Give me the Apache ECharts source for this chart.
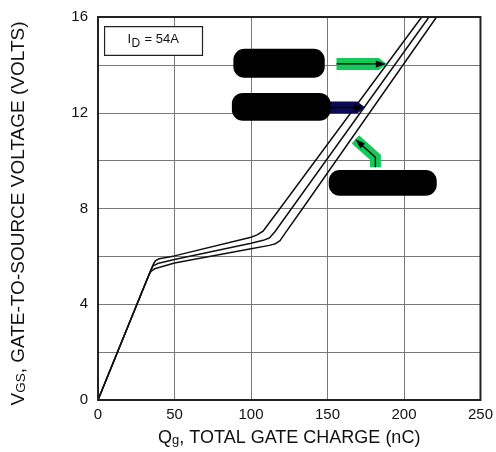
<!DOCTYPE html>
<html><head><meta charset="utf-8">
<script src="https://cdn.jsdelivr.net/npm/echarts@6/dist/echarts.min.js"></script>
<style>html,body{margin:0;padding:0;background:#fff}#c{width:496px;height:452px}</style>
</head><body><div id="c"></div>
<script>
// Curves (Qg nC, VGS V), three curves
const curveTop = [[0,0],[36,5.65],[37.6,5.82],[40,5.9],[50,6.02],[100,6.8],[104,6.9],[108,7.06],[111,7.32],[118.7,7.98],[211.6,16]];
const curveMid = [[0,0],[34.6,5.44],[36,5.6],[39,5.7],[50,5.87],[100,6.55],[108,6.67],[112,6.77],[115.5,7.02],[126.3,7.98],[216.4,16]];
const curveBot = [[0,0],[33,5.18],[34.6,5.37],[37,5.48],[50,5.72],[100,6.32],[112,6.46],[116,6.53],[119,6.66],[122,6.94],[133.5,7.98],[221.3,16]];
const xTicks = [0,50,100,150,200,250];
const yTicks = [0,2,4,6,8,10,12,14,16];
const yLabelTicks = [0,4,8,12,16];
const idLabel = '54A';

const FONT = "'Liberation Sans', Arial, Helvetica, sans-serif";
const chart = echarts.init(document.getElementById('c'), null, {renderer:'canvas'});
const lineSeries = d => ({type:'line', data:d, showSymbol:false, symbol:'none', smooth:false,
  lineStyle:{color:'#111', width:1.5}, z:3, silent:true});
chart.setOption({
  animation:false,
  grid:{left:98, right:14, top:17, bottom:50, show:false},
  xAxis:{type:'value', min:xTicks[0], max:xTicks[xTicks.length-1], interval:50,
    axisLine:{show:false}, axisTick:{show:false},
    axisLabel:{color:'#111', fontSize:15, fontFamily:FONT, margin:7},
    splitLine:{show:true, lineStyle:{color:'#777', width:1}},
    name:'{n|Q}{s|g}{n|, TOTAL GATE CHARGE (nC)}', nameLocation:'middle', nameGap:27,
    nameTextStyle:{rich:{
      n:{fontSize:18, fontFamily:FONT, color:'#111', verticalAlign:'bottom', lineHeight:20},
      s:{fontSize:13, fontFamily:FONT, color:'#111', verticalAlign:'bottom', lineHeight:4}}}
  },
  yAxis:{type:'value', min:yTicks[0], max:yTicks[yTicks.length-1], interval:2,
    axisLine:{show:false}, axisTick:{show:false},
    axisLabel:{color:'#111', fontSize:15, fontFamily:FONT, margin:10,
      formatter: v => yLabelTicks.indexOf(v) >= 0 ? String(v) : ''},
    splitLine:{show:true, lineStyle:{color:'#777', width:1}},
    name:'{n|V}{s|GS}{n|, GATE-TO-SOURCE VOLTAGE (VOLTS)}', nameLocation:'middle', nameRotate:90, nameGap:70,
    nameTextStyle:{padding:[0,10,0,0], rich:{
      n:{fontSize:19, fontFamily:FONT, color:'#111', verticalAlign:'bottom', lineHeight:20},
      s:{fontSize:13.5, fontFamily:FONT, color:'#111', verticalAlign:'bottom', lineHeight:4}}}
  },
  series:[lineSeries(curveTop), lineSeries(curveMid), lineSeries(curveBot)]
});

// Annotations (data coordinates), converted to pixels
function P(q,v){ return chart.convertToPixel({gridIndex:0},[q,v]); }
const g = [];
// plot border
(function(){
  const a=P(xTicks[0],yTicks[yTicks.length-1]), b=P(xTicks[xTicks.length-1],yTicks[0]);
  g.push({type:'rect', shape:{x:a[0], y:a[1], width:b[0]-a[0], height:b[1]-a[1]}, style:{fill:null, stroke:'#222', lineWidth:2}, z:10, silent:true});
})();
function pill(q0,v0,q1,v1){
  const a=P(q0,v0), b=P(q1,v1);
  g.push({type:'rect', shape:{x:a[0], y:a[1], width:b[0]-a[0], height:b[1]-a[1], r:11}, style:{fill:'#000'}, z:20});
}
function bandArrow(q0,q1,v,color){
  const a=P(q0,v), b=P(q1,v); const y=a[1], x0=a[0], xt=b[0], h=6;
  g.push({type:'polygon', shape:{points:[[x0,y-h],[xt-8,y-h],[xt,y],[xt-8,y+h],[x0,y+h]]}, style:{fill:color}, z:18});
  g.push({type:'line', shape:{x1:x0, y1:y, x2:xt-8, y2:y}, style:{stroke:'#000', lineWidth:1.4}, z:19});
  g.push({type:'polygon', shape:{points:[[xt-1,y],[xt-11,y-3.5],[xt-11,y+3.5]]}, style:{fill:'#000'}, z:19});
}
pill(88.5,14.67,148.2,13.46);
pill(87.5,12.83,152,11.67);
pill(150.8,9.61,221.4,8.53);
bandArrow(155.9,188.8,14.04,'#12c95a');
bandArrow(146,174.7,12.22,'#0b0b55');
// bent arrow
(function(){
  const s=P(181.3,9.72), c=P(181.3,10.14), t=P(168.2,10.89);
  g.push({type:'polyline', shape:{points:[s,c,t]}, style:{stroke:'#12c95a', lineWidth:11, lineJoin:'miter', lineCap:'butt', fill:null}, z:18});
  const dx=t[0]-c[0], dy=t[1]-c[1], L=Math.hypot(dx,dy), ux=dx/L, uy=dy/L;
  const bx=t[0]-ux*10, by=t[1]-uy*10;
  g.push({type:'polyline', shape:{points:[s,c,[bx,by]]}, style:{stroke:'#000', lineWidth:1.4, fill:null}, z:19});
  g.push({type:'polygon', shape:{points:[t,[bx-uy*3.5,by+ux*3.5],[bx+uy*3.5,by-ux*3.5]]}, style:{fill:'#000'}, z:19});
})();
// ID box
(function(){
  const a=P(4.3,15.6), b=P(68.3,14.4);
  g.push({type:'rect', shape:{x:a[0], y:a[1], width:b[0]-a[0], height:b[1]-a[1]}, style:{fill:'#fff', stroke:'#222', lineWidth:1.2}, z:20});
  const cy=(a[1]+b[1])/2, x0=a[0]+23;
  g.push({type:'text', x:x0, y:cy-2, z:21, style:{text:'I', fontSize:13, fontFamily:FONT, fill:'#111', align:'left', verticalAlign:'middle'}});
  g.push({type:'text', x:x0+4, y:cy+3, z:21, style:{text:'D', fontSize:12, fontFamily:FONT, fill:'#111', align:'left', verticalAlign:'middle'}});
  g.push({type:'text', x:x0+17, y:cy-2, z:21, style:{text:'= '+idLabel, fontSize:13, fontFamily:FONT, fill:'#111', align:'left', verticalAlign:'middle'}});
})();
chart.setOption({graphic:g});
</script></body></html>
